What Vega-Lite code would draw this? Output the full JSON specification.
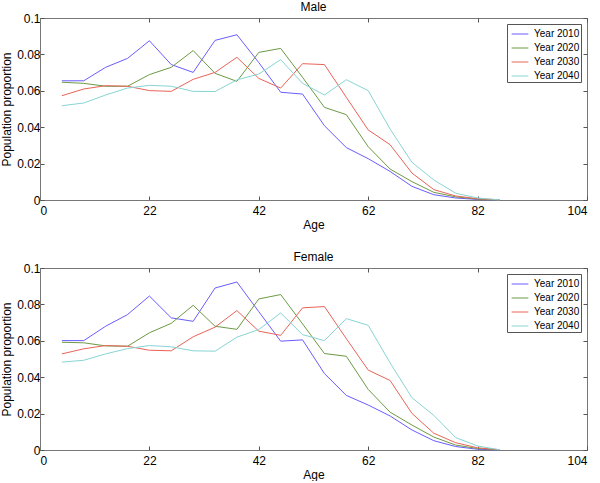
{
  "$schema": "https://vega.github.io/schema/vega-lite/v6.json",
  "padding": {"left": 0, "top": 0, "right": 0, "bottom": 0},
  "background": "white",
  "config": {
    "font": "Liberation Sans",
    "view": {"stroke": "#777", "strokeWidth": 1},
    "title": {"fontSize": 12, "fontWeight": "normal", "color": "#000", "offset": -2},
    "axis": {
      "domainColor": "#777",
      "tickColor": "#555",
      "tickSize": -4,
      "labelFontSize": 12,
      "labelColor": "#000",
      "titleFontSize": 12,
      "titleFontWeight": "normal",
      "titleColor": "#000",
      "grid": false
    },
    "axisX": {"labelPadding": 9, "titlePadding": 3},
    "axisY": {"labelPadding": 4, "titlePadding": 3},
    "axisTop": {"minExtent": 0, "maxExtent": 0},
    "axisRight": {"minExtent": 0, "maxExtent": 0},
    "legend": {
      "orient": "top-right",
      "offset": 6,
      "title": null,
      "symbolType": "stroke",
      "symbolSize": 280,
      "symbolStrokeWidth": 1,
      "symbolOffset": 3,
      "labelOffset": 5,
      "labelFontSize": 10,
      "labelColor": "#000",
      "rowPadding": 0,
      "padding": 1,
      "strokeColor": "#555",
      "fillColor": "white"
    }
  },
  "datasets": {
    "pop": [
      {"sex":"Male","year":"Year 2010","age":4,"p":0.0655},
      {"sex":"Male","year":"Year 2010","age":8,"p":0.0655},
      {"sex":"Male","year":"Year 2010","age":12,"p":0.0729},
      {"sex":"Male","year":"Year 2010","age":16,"p":0.0778},
      {"sex":"Male","year":"Year 2010","age":20,"p":0.0875},
      {"sex":"Male","year":"Year 2010","age":24,"p":0.0744},
      {"sex":"Male","year":"Year 2010","age":28,"p":0.0701},
      {"sex":"Male","year":"Year 2010","age":32,"p":0.0877},
      {"sex":"Male","year":"Year 2010","age":36,"p":0.0908},
      {"sex":"Male","year":"Year 2010","age":40,"p":0.0755},
      {"sex":"Male","year":"Year 2010","age":44,"p":0.0592},
      {"sex":"Male","year":"Year 2010","age":48,"p":0.0582},
      {"sex":"Male","year":"Year 2010","age":52,"p":0.0408},
      {"sex":"Male","year":"Year 2010","age":56,"p":0.0288},
      {"sex":"Male","year":"Year 2010","age":60,"p":0.0227},
      {"sex":"Male","year":"Year 2010","age":64,"p":0.0157},
      {"sex":"Male","year":"Year 2010","age":68,"p":0.0075},
      {"sex":"Male","year":"Year 2010","age":72,"p":0.0029},
      {"sex":"Male","year":"Year 2010","age":76,"p":0.0011},
      {"sex":"Male","year":"Year 2010","age":80,"p":0.0003},
      {"sex":"Male","year":"Year 2010","age":84,"p":0.0},
      {"sex":"Male","year":"Year 2020","age":4,"p":0.0647},
      {"sex":"Male","year":"Year 2020","age":8,"p":0.0641},
      {"sex":"Male","year":"Year 2020","age":12,"p":0.0625},
      {"sex":"Male","year":"Year 2020","age":16,"p":0.0625},
      {"sex":"Male","year":"Year 2020","age":20,"p":0.0689},
      {"sex":"Male","year":"Year 2020","age":24,"p":0.0729},
      {"sex":"Male","year":"Year 2020","age":28,"p":0.0821},
      {"sex":"Male","year":"Year 2020","age":32,"p":0.0696},
      {"sex":"Male","year":"Year 2020","age":36,"p":0.0652},
      {"sex":"Male","year":"Year 2020","age":40,"p":0.0811},
      {"sex":"Male","year":"Year 2020","age":44,"p":0.0833},
      {"sex":"Male","year":"Year 2020","age":48,"p":0.0674},
      {"sex":"Male","year":"Year 2020","age":52,"p":0.0509},
      {"sex":"Male","year":"Year 2020","age":56,"p":0.0469},
      {"sex":"Male","year":"Year 2020","age":60,"p":0.0293},
      {"sex":"Male","year":"Year 2020","age":64,"p":0.0170},
      {"sex":"Male","year":"Year 2020","age":68,"p":0.0101},
      {"sex":"Male","year":"Year 2020","age":72,"p":0.0042},
      {"sex":"Male","year":"Year 2020","age":76,"p":0.0017},
      {"sex":"Male","year":"Year 2020","age":80,"p":0.0005},
      {"sex":"Male","year":"Year 2020","age":84,"p":0.0},
      {"sex":"Male","year":"Year 2030","age":4,"p":0.0573},
      {"sex":"Male","year":"Year 2030","age":8,"p":0.0610},
      {"sex":"Male","year":"Year 2030","age":12,"p":0.0628},
      {"sex":"Male","year":"Year 2030","age":16,"p":0.0625},
      {"sex":"Male","year":"Year 2030","age":20,"p":0.0601},
      {"sex":"Male","year":"Year 2030","age":24,"p":0.0597},
      {"sex":"Male","year":"Year 2030","age":28,"p":0.0663},
      {"sex":"Male","year":"Year 2030","age":32,"p":0.0701},
      {"sex":"Male","year":"Year 2030","age":36,"p":0.0784},
      {"sex":"Male","year":"Year 2030","age":40,"p":0.0668},
      {"sex":"Male","year":"Year 2030","age":44,"p":0.0615},
      {"sex":"Male","year":"Year 2030","age":48,"p":0.0749},
      {"sex":"Male","year":"Year 2030","age":52,"p":0.0744},
      {"sex":"Male","year":"Year 2030","age":56,"p":0.0564},
      {"sex":"Male","year":"Year 2030","age":60,"p":0.0385},
      {"sex":"Male","year":"Year 2030","age":64,"p":0.0304},
      {"sex":"Male","year":"Year 2030","age":68,"p":0.0148},
      {"sex":"Male","year":"Year 2030","age":72,"p":0.0057},
      {"sex":"Male","year":"Year 2030","age":76,"p":0.0022},
      {"sex":"Male","year":"Year 2030","age":80,"p":0.0007},
      {"sex":"Male","year":"Year 2030","age":84,"p":0.0001},
      {"sex":"Male","year":"Year 2040","age":4,"p":0.0518},
      {"sex":"Male","year":"Year 2040","age":8,"p":0.0533},
      {"sex":"Male","year":"Year 2040","age":12,"p":0.0577},
      {"sex":"Male","year":"Year 2040","age":16,"p":0.0615},
      {"sex":"Male","year":"Year 2040","age":20,"p":0.0630},
      {"sex":"Male","year":"Year 2040","age":24,"p":0.0625},
      {"sex":"Male","year":"Year 2040","age":28,"p":0.0597},
      {"sex":"Male","year":"Year 2040","age":32,"p":0.0596},
      {"sex":"Male","year":"Year 2040","age":36,"p":0.0660},
      {"sex":"Male","year":"Year 2040","age":40,"p":0.0692},
      {"sex":"Male","year":"Year 2040","age":44,"p":0.0771},
      {"sex":"Male","year":"Year 2040","age":48,"p":0.0641},
      {"sex":"Male","year":"Year 2040","age":52,"p":0.0577},
      {"sex":"Male","year":"Year 2040","age":56,"p":0.0661},
      {"sex":"Male","year":"Year 2040","age":60,"p":0.0601},
      {"sex":"Male","year":"Year 2040","age":64,"p":0.0390},
      {"sex":"Male","year":"Year 2040","age":68,"p":0.0207},
      {"sex":"Male","year":"Year 2040","age":72,"p":0.0110},
      {"sex":"Male","year":"Year 2040","age":76,"p":0.0037},
      {"sex":"Male","year":"Year 2040","age":80,"p":0.0011},
      {"sex":"Male","year":"Year 2040","age":84,"p":0.0001},
      {"sex":"Female","year":"Year 2010","age":4,"p":0.0601},
      {"sex":"Female","year":"Year 2010","age":8,"p":0.0601},
      {"sex":"Female","year":"Year 2010","age":12,"p":0.0680},
      {"sex":"Female","year":"Year 2010","age":16,"p":0.0744},
      {"sex":"Female","year":"Year 2010","age":20,"p":0.0846},
      {"sex":"Female","year":"Year 2010","age":24,"p":0.0726},
      {"sex":"Female","year":"Year 2010","age":28,"p":0.0707},
      {"sex":"Female","year":"Year 2010","age":32,"p":0.0890},
      {"sex":"Female","year":"Year 2010","age":36,"p":0.0923},
      {"sex":"Female","year":"Year 2010","age":40,"p":0.0760},
      {"sex":"Female","year":"Year 2010","age":44,"p":0.0598},
      {"sex":"Female","year":"Year 2010","age":48,"p":0.0605},
      {"sex":"Female","year":"Year 2010","age":52,"p":0.0420},
      {"sex":"Female","year":"Year 2010","age":56,"p":0.0300},
      {"sex":"Female","year":"Year 2010","age":60,"p":0.0247},
      {"sex":"Female","year":"Year 2010","age":64,"p":0.0187},
      {"sex":"Female","year":"Year 2010","age":68,"p":0.0110},
      {"sex":"Female","year":"Year 2010","age":72,"p":0.0051},
      {"sex":"Female","year":"Year 2010","age":76,"p":0.0019},
      {"sex":"Female","year":"Year 2010","age":80,"p":0.0004},
      {"sex":"Female","year":"Year 2010","age":84,"p":0.0},
      {"sex":"Female","year":"Year 2020","age":4,"p":0.0592},
      {"sex":"Female","year":"Year 2020","age":8,"p":0.0589},
      {"sex":"Female","year":"Year 2020","age":12,"p":0.0572},
      {"sex":"Female","year":"Year 2020","age":16,"p":0.0570},
      {"sex":"Female","year":"Year 2020","age":20,"p":0.0644},
      {"sex":"Female","year":"Year 2020","age":24,"p":0.0696},
      {"sex":"Female","year":"Year 2020","age":28,"p":0.0795},
      {"sex":"Female","year":"Year 2020","age":32,"p":0.0680},
      {"sex":"Female","year":"Year 2020","age":36,"p":0.0663},
      {"sex":"Female","year":"Year 2020","age":40,"p":0.0830},
      {"sex":"Female","year":"Year 2020","age":44,"p":0.0854},
      {"sex":"Female","year":"Year 2020","age":48,"p":0.0693},
      {"sex":"Female","year":"Year 2020","age":52,"p":0.0530},
      {"sex":"Female","year":"Year 2020","age":56,"p":0.0515},
      {"sex":"Female","year":"Year 2020","age":60,"p":0.0333},
      {"sex":"Female","year":"Year 2020","age":64,"p":0.0208},
      {"sex":"Female","year":"Year 2020","age":68,"p":0.0137},
      {"sex":"Female","year":"Year 2020","age":72,"p":0.0071},
      {"sex":"Female","year":"Year 2020","age":76,"p":0.0027},
      {"sex":"Female","year":"Year 2020","age":80,"p":0.0008},
      {"sex":"Female","year":"Year 2020","age":84,"p":0.0001},
      {"sex":"Female","year":"Year 2030","age":4,"p":0.0528},
      {"sex":"Female","year":"Year 2030","age":8,"p":0.0556},
      {"sex":"Female","year":"Year 2030","age":12,"p":0.0574},
      {"sex":"Female","year":"Year 2030","age":16,"p":0.0570},
      {"sex":"Female","year":"Year 2030","age":20,"p":0.0548},
      {"sex":"Female","year":"Year 2030","age":24,"p":0.0545},
      {"sex":"Female","year":"Year 2030","age":28,"p":0.0622},
      {"sex":"Female","year":"Year 2030","age":32,"p":0.0675},
      {"sex":"Female","year":"Year 2030","age":36,"p":0.0766},
      {"sex":"Female","year":"Year 2030","age":40,"p":0.0653},
      {"sex":"Female","year":"Year 2030","age":44,"p":0.0630},
      {"sex":"Female","year":"Year 2030","age":48,"p":0.0781},
      {"sex":"Female","year":"Year 2030","age":52,"p":0.0788},
      {"sex":"Female","year":"Year 2030","age":56,"p":0.0612},
      {"sex":"Female","year":"Year 2030","age":60,"p":0.0439},
      {"sex":"Female","year":"Year 2030","age":64,"p":0.0382},
      {"sex":"Female","year":"Year 2030","age":68,"p":0.0201},
      {"sex":"Female","year":"Year 2030","age":72,"p":0.0092},
      {"sex":"Female","year":"Year 2030","age":76,"p":0.0040},
      {"sex":"Female","year":"Year 2030","age":80,"p":0.0012},
      {"sex":"Female","year":"Year 2030","age":84,"p":0.0002},
      {"sex":"Female","year":"Year 2040","age":4,"p":0.0483},
      {"sex":"Female","year":"Year 2040","age":8,"p":0.0493},
      {"sex":"Female","year":"Year 2040","age":12,"p":0.0528},
      {"sex":"Female","year":"Year 2040","age":16,"p":0.0557},
      {"sex":"Female","year":"Year 2040","age":20,"p":0.0574},
      {"sex":"Female","year":"Year 2040","age":24,"p":0.0567},
      {"sex":"Female","year":"Year 2040","age":28,"p":0.0545},
      {"sex":"Female","year":"Year 2040","age":32,"p":0.0543},
      {"sex":"Female","year":"Year 2040","age":36,"p":0.0620},
      {"sex":"Female","year":"Year 2040","age":40,"p":0.0662},
      {"sex":"Female","year":"Year 2040","age":44,"p":0.0753},
      {"sex":"Female","year":"Year 2040","age":48,"p":0.0634},
      {"sex":"Female","year":"Year 2040","age":52,"p":0.0601},
      {"sex":"Female","year":"Year 2040","age":56,"p":0.0722},
      {"sex":"Female","year":"Year 2040","age":60,"p":0.0685},
      {"sex":"Female","year":"Year 2040","age":64,"p":0.0479},
      {"sex":"Female","year":"Year 2040","age":68,"p":0.0287},
      {"sex":"Female","year":"Year 2040","age":72,"p":0.0190},
      {"sex":"Female","year":"Year 2040","age":76,"p":0.0068},
      {"sex":"Female","year":"Year 2040","age":80,"p":0.0022},
      {"sex":"Female","year":"Year 2040","age":84,"p":0.0001}
    ]
  },
  "vconcat": [
    {
      "title": "Male",
      "width": 547,
      "height": 182,
      "data": {"name": "pop"},
      "transform": [{"filter": "datum.sex === 'Male'"}],
      "layer": [
        {
          "mark": {"type": "line", "strokeWidth": 1},
          "encoding": {
            "x": {"field": "age", "type": "quantitative", "scale": {"domain": [0, 100], "nice": false, "zero": false}, "axis": {"title": "Age", "values": [0, 20, 40, 60, 80, 100], "labelExpr": "datum.value == 0 ? '0' : datum.value == 100 ? '104' : '' + (datum.value + 2)"}},
            "y": {"field": "p", "type": "quantitative", "scale": {"domain": [0, 0.1], "nice": false}, "axis": {"title": "Population proportion", "values": [0, 0.02, 0.04, 0.06, 0.08, 0.1], "format": ".2~f"}},
            "color": {"field": "year", "type": "nominal", "scale": {"domain": ["Year 2010", "Year 2020", "Year 2030", "Year 2040"], "range": ["#6a5cff", "#6c9a44", "#e86458", "#88d4d4"]}}
          }
        },
        {
          "mark": {"type": "line", "opacity": 0},
          "encoding": {
            "x": {"field": "age", "type": "quantitative", "axis": {"orient": "top", "title": null, "labels": false, "values": [0, 20, 40, 60, 80, 100], "domain": false}},
            "y": {"field": "p", "type": "quantitative", "axis": {"orient": "right", "title": null, "labels": false, "values": [0, 0.02, 0.04, 0.06, 0.08, 0.1], "domain": false}}
          }
        }
      ],
      "resolve": {"axis": {"x": "independent", "y": "independent"}}
    },
    {
      "title": "Female",
      "width": 547,
      "height": 182,
      "data": {"name": "pop"},
      "transform": [{"filter": "datum.sex === 'Female'"}],
      "layer": [
        {
          "mark": {"type": "line", "strokeWidth": 1},
          "encoding": {
            "x": {"field": "age", "type": "quantitative", "scale": {"domain": [0, 100], "nice": false, "zero": false}, "axis": {"title": "Age", "values": [0, 20, 40, 60, 80, 100], "labelExpr": "datum.value == 0 ? '0' : datum.value == 100 ? '104' : '' + (datum.value + 2)"}},
            "y": {"field": "p", "type": "quantitative", "scale": {"domain": [0, 0.1], "nice": false}, "axis": {"title": "Population proportion", "values": [0, 0.02, 0.04, 0.06, 0.08, 0.1], "format": ".2~f"}},
            "color": {"field": "year", "type": "nominal", "scale": {"domain": ["Year 2010", "Year 2020", "Year 2030", "Year 2040"], "range": ["#6a5cff", "#6c9a44", "#e86458", "#88d4d4"]}}
          }
        },
        {
          "mark": {"type": "line", "opacity": 0},
          "encoding": {
            "x": {"field": "age", "type": "quantitative", "axis": {"orient": "top", "title": null, "labels": false, "values": [0, 20, 40, 60, 80, 100], "domain": false}},
            "y": {"field": "p", "type": "quantitative", "axis": {"orient": "right", "title": null, "labels": false, "values": [0, 0.02, 0.04, 0.06, 0.08, 0.1], "domain": false}}
          }
        }
      ],
      "resolve": {"axis": {"x": "independent", "y": "independent"}}
    }
  ],
  "spacing": 19,
  "resolve": {"scale": {"color": "independent"}, "legend": {"color": "independent"}}
}
